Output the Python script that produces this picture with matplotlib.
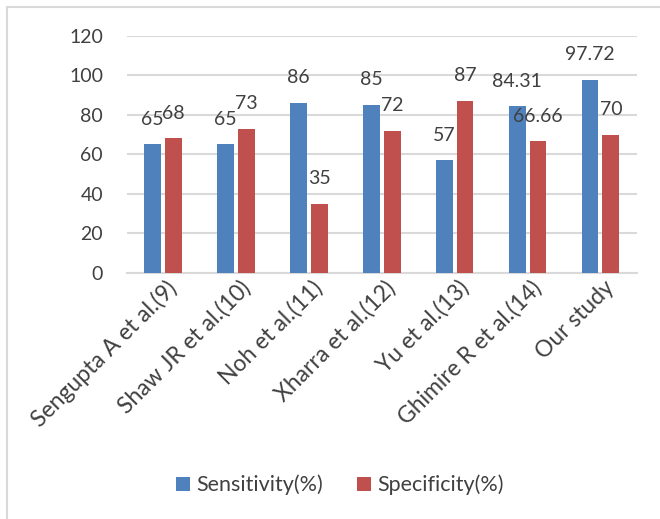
# 敏感度 / 特异度 对比柱状图

import numpy as np
import matplotlib.pyplot as plt
from matplotlib.patches import Rectangle
from matplotlib.transforms import ScaledTranslation


# =========================
# 1. 数据
# =========================
studies = ["Sengupta A et al.(9)", "Shaw JR et al.(10)", "Noh et al.(11)",
           "Xharra et al.(12)", "Yu et al.(13)", "Ghimire R et al.(14)",
           "Our study"]
sensitivity = [65, 65, 86, 85, 57, 84.31, 97.72]
specificity = [68, 73, 35, 72, 87, 66.66, 70]
sens_labels = ["65", "65", "86", "85", "57", "84.31", "97.72"]
spec_labels = ["68", "73", "35", "72", "87", "66.66", "70"]


# =========================
# 2. 样式
# =========================
plt.rcParams['font.family'] = ['Lato', 'DejaVu Sans']
BLUE = "#4F81BD"
RED = "#C0504D"
TXT = "#404040"
GRID = "#D9D9D9"


# =========================
# 3. 作图
# =========================
fig = plt.figure(figsize=(6.6, 5.19), dpi=100)
ax = fig.add_axes([0.192, 0.4746, 0.773, 0.4564])

x = np.arange(len(studies))
w = 0.23
off = 0.143

b1 = ax.bar(x - off, sensitivity, w, color=BLUE, label="Sensitivity(%)", zorder=3)
b2 = ax.bar(x + off, specificity, w, color=RED, label="Specificity(%)", zorder=3)

for bars, labs in [(b1, sens_labels), (b2, spec_labels)]:
    for b, t in zip(bars, labs):
        ax.annotate(t, (b.get_x() + b.get_width() / 2, b.get_height()),
                    xytext=(0, 18), textcoords="offset points",
                    ha="center", va="center", fontsize=14, color=TXT, zorder=4)

ax.set_xlim(-0.5, len(studies) - 0.5)
ax.set_ylim(0, 120)
ax.set_yticks(range(0, 121, 20))
ax.yaxis.grid(True, color=GRID, linewidth=1.5, zorder=0)
ax.set_axisbelow(True)

for s in ["top", "right", "left"]:
    ax.spines[s].set_visible(False)
ax.spines["bottom"].set_color(GRID)
ax.spines["bottom"].set_linewidth(1.5)

ax.tick_params(axis="y", length=0, pad=17, labelsize=14, labelcolor=TXT)
ax.tick_params(axis="x", length=0, pad=3, labelsize=16.5, labelcolor=TXT)
ax.set_xticks(x)
ax.set_xticklabels(studies, rotation=45, ha="right", rotation_mode="anchor")
shift = ScaledTranslation(3 / 100, 0, fig.dpi_scale_trans)
for lab in ax.get_xticklabels():
    lab.set_transform(lab.get_transform() + shift)

fig.legend(loc="center", bbox_to_anchor=(0.515, 0.0655), ncol=2, frameon=False,
           fontsize=15.5, labelcolor=TXT, handlelength=0.65, handleheight=0.65,
           handletextpad=0.3, columnspacing=1.6)

# 外框(只看得到左边和上边)
fig.patches.append(Rectangle((7 / 660, -0.1), 1.2, 1.1 - 7 / 519,
                             transform=fig.transFigure, fill=False,
                             edgecolor=GRID, linewidth=1.5))

plt.savefig("out.png", dpi=100)
